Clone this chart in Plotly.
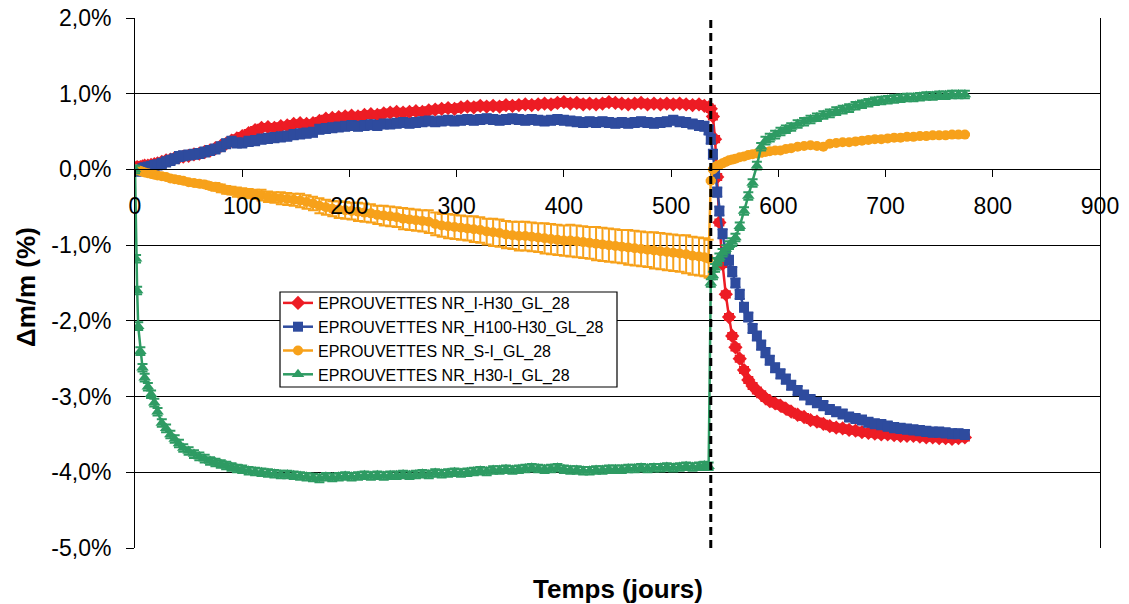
import plotly.graph_objects as go

# ---------------- data ----------------
days_phase1 = [0, 1, 2, 3, 5, 7, 9, 12, 15, 18,
               21, 25, 29, 33, 37, 41, 45, 50, 55, 60,
               65, 70, 75, 80, 85, 90, 95, 100, 106, 112,
               118, 124, 130, 136, 142, 148, 154, 160, 166, 172,
               178, 184, 190, 196, 202, 208, 214, 220, 226, 232,
               238, 244, 250, 256, 262, 268, 274, 280, 286, 292,
               298, 304, 310, 316, 322, 328, 334, 340, 346, 352,
               358, 364, 370, 376, 382, 388, 394, 400, 406, 412,
               418, 424, 430, 436, 442, 448, 454, 460, 466, 472,
               478, 484, 490, 496, 502, 508, 514, 520, 526, 531,
               535]
days_phase2 = [537, 539, 541, 543, 545, 548, 551, 554, 557, 560,
               564, 568, 572, 576, 580, 584, 588, 592, 597, 602,
               607, 612, 618, 624, 630, 636, 642, 648, 654, 660,
               666, 672, 678, 684, 690, 696, 702, 708, 714, 720,
               726, 732, 738, 744, 750, 756, 762, 768, 774]

red_phase1 = [0.00, 0.02, 0.03, 0.02, 0.03, 0.04, 0.05, 0.05, 0.06, 0.07,
              0.08, 0.10, 0.12, 0.13, 0.15, 0.16, 0.17, 0.18, 0.20, 0.21,
              0.23, 0.25, 0.28, 0.31, 0.34, 0.38, 0.41, 0.44, 0.48, 0.52,
              0.55, 0.56, 0.55, 0.57, 0.58, 0.60, 0.61, 0.60, 0.61, 0.64,
              0.67, 0.68, 0.69, 0.70, 0.71, 0.70, 0.72, 0.73, 0.72, 0.74,
              0.75, 0.76, 0.75, 0.76, 0.77, 0.76, 0.78, 0.79, 0.80, 0.81,
              0.80, 0.82, 0.83, 0.82, 0.84, 0.83, 0.84, 0.83, 0.85, 0.84,
              0.85, 0.86, 0.85, 0.86, 0.87, 0.86, 0.88, 0.89, 0.87, 0.88,
              0.86, 0.87, 0.86, 0.87, 0.89, 0.88, 0.87, 0.86, 0.87, 0.88,
              0.86, 0.87, 0.86, 0.87, 0.86, 0.87, 0.86, 0.85, 0.86, 0.84,
              0.82]
red_phase2 = [0.80, 0.70, 0.40, -0.10, -0.70, -1.25, -1.65, -1.95, -2.20, -2.35,
              -2.50, -2.65, -2.78, -2.86, -2.92, -2.97, -3.02, -3.06, -3.09, -3.12,
              -3.16, -3.20, -3.24, -3.27, -3.31, -3.33, -3.36, -3.39, -3.41, -3.42,
              -3.44, -3.45, -3.47, -3.48, -3.49, -3.50, -3.50, -3.51, -3.52, -3.52,
              -3.52, -3.53, -3.54, -3.54, -3.55, -3.55, -3.56, -3.55, -3.54]

blue_phase1 = [0.00, -0.02, -0.02, -0.01, 0.00, 0.01, 0.02, 0.03, 0.04, 0.05,
               0.06, 0.08, 0.10, 0.12, 0.14, 0.17, 0.18, 0.19, 0.20, 0.21,
               0.23, 0.25, 0.27, 0.30, 0.34, 0.37, 0.35, 0.35, 0.37, 0.38,
               0.40, 0.41, 0.42, 0.43, 0.44, 0.46, 0.47, 0.48, 0.49, 0.53,
               0.54, 0.55, 0.56, 0.57, 0.58, 0.57, 0.58, 0.59, 0.58, 0.60,
               0.60, 0.61, 0.62, 0.61, 0.62, 0.63, 0.64, 0.63, 0.64, 0.65,
               0.64, 0.65, 0.66, 0.65, 0.66, 0.67, 0.66, 0.65, 0.66, 0.67,
               0.66, 0.65, 0.66, 0.65, 0.64, 0.65, 0.66, 0.65, 0.64, 0.63,
               0.62, 0.63, 0.62, 0.63, 0.62, 0.61, 0.62, 0.61, 0.62, 0.63,
               0.62, 0.61, 0.62, 0.63, 0.65, 0.63, 0.62, 0.60, 0.58, 0.57,
               0.52]
blue_phase2 = [0.40, 0.20, -0.05, -0.30, -0.55, -0.85, -1.10, -1.20, -1.35, -1.50,
               -1.65, -1.82, -1.95, -2.10, -2.20, -2.32, -2.42, -2.52, -2.62, -2.70,
               -2.77, -2.85, -2.92, -2.98, -3.04, -3.08, -3.12, -3.17, -3.20, -3.23,
               -3.27, -3.29, -3.31, -3.34, -3.36, -3.37, -3.39, -3.41, -3.42, -3.43,
               -3.44, -3.45, -3.46, -3.47, -3.47, -3.48, -3.49, -3.49, -3.50]

orange_phase1 = [0.00, 0.00, -0.01, -0.01, -0.02, -0.03, -0.04, -0.05, -0.06, -0.07,
                 -0.08, -0.09, -0.10, -0.12, -0.13, -0.14, -0.15, -0.17, -0.18, -0.19,
                 -0.20, -0.22, -0.23, -0.25, -0.27, -0.28, -0.30, -0.31, -0.32, -0.33,
                 -0.34, -0.36, -0.37, -0.38, -0.39, -0.40, -0.41, -0.43, -0.45, -0.48,
                 -0.50, -0.52, -0.53, -0.54, -0.55, -0.56, -0.57, -0.58, -0.60, -0.61,
                 -0.62, -0.63, -0.65, -0.66, -0.67, -0.68, -0.69, -0.72, -0.74, -0.75,
                 -0.76, -0.77, -0.78, -0.79, -0.80, -0.82, -0.83, -0.84, -0.86, -0.87,
                 -0.88, -0.88, -0.89, -0.90, -0.91, -0.92, -0.93, -0.94, -0.94, -0.95,
                 -0.96, -0.97, -0.98, -0.99, -1.00, -1.01, -1.02, -1.03, -1.04, -1.05,
                 -1.06, -1.07, -1.08, -1.09, -1.10, -1.11, -1.12, -1.14, -1.15, -1.16,
                 -1.18]
orange_err_phase1 = [0.00, 0.00, 0.01, 0.01, 0.01, 0.01, 0.01, 0.01, 0.02, 0.02,
                     0.02, 0.02, 0.02, 0.03, 0.03, 0.03, 0.03, 0.03, 0.04, 0.04,
                     0.04, 0.04, 0.05, 0.05, 0.05, 0.05, 0.06, 0.06, 0.06, 0.06,
                     0.07, 0.07, 0.07, 0.08, 0.08, 0.08, 0.09, 0.09, 0.09, 0.10,
                     0.10, 0.10, 0.11, 0.11, 0.11, 0.12, 0.12, 0.12, 0.12, 0.13,
                     0.13, 0.13, 0.14, 0.14, 0.14, 0.14, 0.15, 0.15, 0.15, 0.16,
                     0.16, 0.16, 0.16, 0.17, 0.17, 0.17, 0.18, 0.18, 0.18, 0.18,
                     0.19, 0.19, 0.19, 0.19, 0.20, 0.20, 0.20, 0.20, 0.21, 0.21,
                     0.21, 0.21, 0.22, 0.22, 0.22, 0.22, 0.22, 0.23, 0.23, 0.23,
                     0.23, 0.24, 0.24, 0.24, 0.24, 0.24, 0.25, 0.25, 0.25, 0.25,
                     0.25]
orange_phase2 = [-0.15, 0.00, 0.03, 0.05, 0.06, 0.08, 0.10, 0.12, 0.13, 0.14,
                 0.16, 0.17, 0.19, 0.20, 0.21, 0.22, 0.23, 0.24, 0.25, 0.25,
                 0.27, 0.28, 0.30, 0.31, 0.32, 0.31, 0.30, 0.34, 0.35, 0.36,
                 0.36, 0.37, 0.38, 0.39, 0.40, 0.40, 0.41, 0.42, 0.42, 0.43,
                 0.43, 0.44, 0.44, 0.45, 0.45, 0.45, 0.46, 0.46, 0.46]

green_phase1 = [0.00, -1.18, -1.60, -2.07, -2.40, -2.62, -2.75, -2.87, -2.97, -3.08,
                -3.20, -3.35, -3.42, -3.50, -3.56, -3.62, -3.68, -3.72, -3.76, -3.79,
                -3.82, -3.85, -3.87, -3.89, -3.91, -3.93, -3.95, -3.96, -3.98, -3.99,
                -4.00, -4.01, -4.02, -4.03, -4.03, -4.04, -4.05, -4.06, -4.07, -4.08,
                -4.06, -4.07, -4.06, -4.05, -4.06, -4.05, -4.04, -4.05, -4.04, -4.05,
                -4.04, -4.04, -4.03, -4.04, -4.03, -4.02, -4.03, -4.01, -4.02, -4.01,
                -4.00, -4.01, -4.00, -3.99, -3.98, -3.99, -3.97, -3.97, -3.96, -3.97,
                -3.96, -3.95, -3.94, -3.95, -3.96, -3.95, -3.94, -3.96, -3.97, -3.97,
                -3.98, -3.98, -3.97, -3.97, -3.96, -3.96, -3.96, -3.95, -3.95, -3.94,
                -3.95, -3.94, -3.94, -3.93, -3.94, -3.93, -3.92, -3.93, -3.92, -3.91,
                -3.92]
green_phase2 = [-1.50, -1.40, -1.30, -1.22, -1.16, -1.10, -1.05, -1.00, -0.96, -0.90,
                -0.75, -0.55, -0.35, -0.18, 0.05, 0.30, 0.38, 0.42, 0.46, 0.50,
                0.53, 0.56, 0.60, 0.63, 0.66, 0.69, 0.72, 0.74, 0.77, 0.79,
                0.81, 0.84, 0.86, 0.88, 0.90, 0.91, 0.92, 0.93, 0.94, 0.95,
                0.95, 0.96, 0.97, 0.97, 0.98, 0.98, 0.99, 0.99, 0.99]

red_err = 0.04
blue_err = 0.06
green_err = 0.05
orange_err_phase2 = 0.01

switch_day = 537

series_names = ["EPROUVETTES NR_I-H30_GL_28",
                "EPROUVETTES NR_H100-H30_GL_28",
                "EPROUVETTES NR_S-I_GL_28",
                "EPROUVETTES NR_H30-I_GL_28"]

y_tick_values = [-5, -4, -3, -2, -1, 0, 1, 2]
y_tick_labels = ["-5,0%", "-4,0%", "-3,0%", "-2,0%", "-1,0%", "0,0%", "1,0%", "2,0%"]
x_tick_values = [0, 100, 200, 300, 400, 500, 600, 700, 800, 900]

# ---------------- figure ----------------
FONT = "Liberation Sans, Arial, sans-serif"
days_all = days_phase1 + days_phase2

series = [
    (series_names[0], red_phase1 + red_phase2, [red_err] * len(days_all), "#ED1C24", "diamond", 11),
    (series_names[1], blue_phase1 + blue_phase2, [blue_err] * len(days_all), "#2E4B9E", "square", 10),
    (series_names[2], orange_phase1 + orange_phase2,
     orange_err_phase1 + [orange_err_phase2] * len(days_phase2), "#F7A11A", "circle", 10),
    (series_names[3], green_phase1 + green_phase2, [green_err] * len(days_all), "#2E9B63", "triangle-up", 11),
]

fig = go.Figure()
for name, vals, errs, color, symbol, size in series:
    m = min(len(days_all), len(vals), len(errs))
    fig.add_trace(go.Scatter(
        x=days_all[:m], y=vals[:m], name=name, mode="lines+markers",
        line=dict(color=color, width=2.5),
        marker=dict(color=color, symbol=symbol, size=size, line=dict(width=0)),
        error_y=dict(type="data", array=errs[:m], visible=True, color=color,
                     thickness=2, width=5),
    ))

# vertical dashed separator
fig.add_shape(type="line", xref="x", yref="paper", x0=switch_day, x1=switch_day,
              y0=0, y1=1, line=dict(color="black", width=3, dash="8px,5px"))

# legend frame (drawn as a box so its padding matches the reference)
PLOT_L, PLOT_T, PLOT_W, PLOT_H = 135, 18, 965, 530
def px_x(p):
    return (p - PLOT_L) / PLOT_W
def px_y(p):
    return (PLOT_T + PLOT_H - p) / PLOT_H

fig.add_shape(type="rect", xref="paper", yref="paper",
              x0=px_x(280), x1=px_x(617), y0=px_y(387), y1=px_y(292),
              fillcolor="white", line=dict(color="black", width=1.2), layer="above")

fig.update_layout(
    width=1129, height=604,
    margin=dict(l=135, r=29, t=18, b=56, autoexpand=False),
    paper_bgcolor="white", plot_bgcolor="white",
    font=dict(family=FONT, color="black"),
    showlegend=True,
    legend=dict(x=px_x(278), y=px_y(286), xanchor="left", yanchor="top",
                bgcolor="rgba(0,0,0,0)", borderwidth=0,
                font=dict(size=16, family=FONT, color="black"),
                tracegroupgap=0),
    xaxis=dict(range=[0, 900], tickvals=x_tick_values, anchor="free",
               position=5 / 7, showline=True, linecolor="black", linewidth=1,
               ticks="outside", ticklen=7, tickcolor="black", showgrid=False,
               zeroline=False, tickfont=dict(size=23, family=FONT),
               ticklabelstandoff=9, automargin=False),
    yaxis=dict(range=[-5, 2], tickvals=y_tick_values, ticktext=y_tick_labels,
               showline=True, linecolor="black", linewidth=1, mirror=True,
               ticks="outside", ticklen=8, tickcolor="black",
               showgrid=True, gridcolor="black", gridwidth=1, zeroline=False,
               tickfont=dict(size=23, family=FONT), ticklabelstandoff=10,
               automargin=False),
    annotations=[
        dict(text="<b>Temps (jours)</b>", xref="paper", yref="paper",
             x=0.5, y=px_y(589), xanchor="center", yanchor="middle",
             showarrow=False, font=dict(size=26, family=FONT)),
        dict(text="<b>Δm/m (%)</b>", xref="paper", yref="paper",
             x=px_x(26), y=px_y(287), xanchor="center", yanchor="middle",
             textangle=-90, showarrow=False, font=dict(size=26, family=FONT)),
    ],
)

fig.write_html("out.html", config={"displayModeBar": False},
               post_script="document.body.style.margin='0';document.body.style.padding='0';")
